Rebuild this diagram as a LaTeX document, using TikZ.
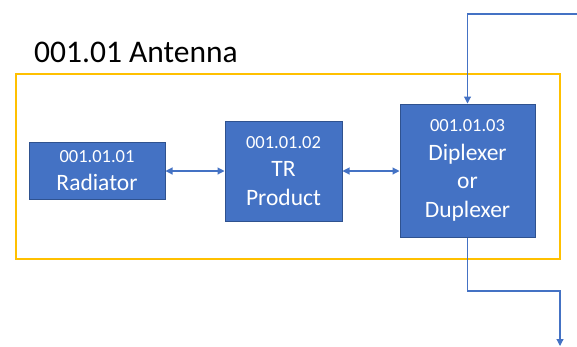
\documentclass[tikz,border=0pt]{standalone}
\usepackage{fontspec}
\setmainfont{Carlito}
\usetikzlibrary{arrows.meta}
\definecolor{boxblue}{HTML}{4472C4}
\definecolor{boxedge}{HTML}{2F528F}
\definecolor{linkblue}{HTML}{4472C4}
\definecolor{frameyellow}{HTML}{FFC000}
% smaller size for the item numbers inside the blocks
\newcommand\itemno{\fontsize{18.5}{22}\selectfont}
\tikzset{
  block/.style={draw=boxedge, line width=1pt, fill=boxblue, text=white,
    align=center, inner sep=0pt,
    font=\fontsize{23.5}{28.5}\selectfont},
  link/.style={draw=linkblue, line width=1.1pt},
  tip/.style={-{Triangle[length=7pt,width=7pt]}},
  both/.style={{Triangle[length=7pt,width=7pt]}-{Triangle[length=7pt,width=7pt]}}
}
\begin{document}
\begin{tikzpicture}[x=1pt,y=-1pt]
  \useasboundingbox (0,0) rectangle (577,346);
  % assembly frame and its title
  \draw[frameyellow, line width=2.8pt] (16,74) rectangle (560,259);
  \node[anchor=west, inner sep=0pt, font=\fontsize{31.5}{36}\selectfont] (title) at (34,52) {001.01 Antenna};
  % sub-assemblies
  \node[block, minimum width=136pt, minimum height=57pt] (rad) at (97,170.5)
    {{\itemno 001.01.01}\\Radiator};
  \node[block, minimum width=117pt, minimum height=100pt] (tr) at (283.5,171)
    {{\itemno 001.01.02}\\TR\\Product};
  \node[block, minimum width=135pt, minimum height=133pt] (dip) at (467.5,170.5)
    {{\itemno 001.01.03}\\Diplexer\\or\\Duplexer};
  % internal links
  \draw[link, both] (rad.east |- 0,171) -- (tr.west |- 0,171);
  \draw[link, both] (tr.east |- 0,171) -- (dip.west |- 0,171);
  % external input and output
  \coordinate (in) at (578,14);
  \coordinate (out) at (560,346);
  \draw[link, tip] (in) -- (dip.north |- in) -- (dip.north);
  \draw[link, tip] (dip.south) -- (dip.south |- 0,291) -- (out |- 0,291) -- (out);
\end{tikzpicture}
\end{document}
